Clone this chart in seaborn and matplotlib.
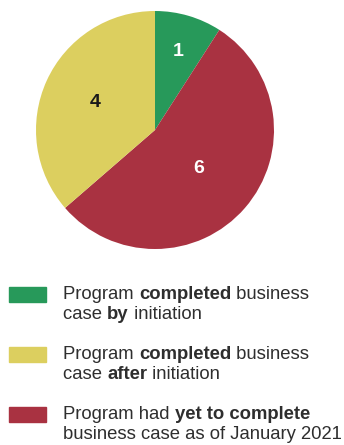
import matplotlib
matplotlib.use("Agg")
import matplotlib.pyplot as plt
import numpy as np
import seaborn as sns
from matplotlib.patches import Rectangle

# Data
categories = ["by", "after", "yet"]
counts = [1, 6, 4]
slice_colors = ["#27995a", "#a93241", "#dccf5f"]
label_colors = ["white", "white", "#1a1a1a"]
label_dist = [0.69, 0.49, 0.55]

legend_colors = ["#27995a", "#dccf5f", "#a93241"]
legend_lines = [
    [[("Program ", "normal"), ("completed", "bold"), (" business", "normal")],
     [("case ", "normal"), ("by", "bold"), (" initiation", "normal")]],
    [[("Program ", "normal"), ("completed", "bold"), (" business", "normal")],
     [("case ", "normal"), ("after", "bold"), (" initiation", "normal")]],
    [[("Program had ", "normal"), ("yet to complete", "bold")],
     [("business case as of January 2021", "normal")]],
]

sns.set_theme(style="white")
plt.rcParams["font.family"] = ["Liberation Sans", "DejaVu Sans"]

fig = plt.figure(figsize=(3.44, 4.45), dpi=100)
ax = fig.add_axes([36 / 344, 1 - 249 / 445, 238 / 344, 238 / 445])
wedges, _ = ax.pie(counts, colors=slice_colors, startangle=90, counterclock=False,
                   wedgeprops=dict(linewidth=0))
for w, n, c, d in zip(wedges, counts, label_colors, label_dist):
    ang = np.deg2rad((w.theta1 + w.theta2) / 2)
    ax.text(d * np.cos(ang), d * np.sin(ang), str(n), color=c, fontsize=14,
            fontweight="bold", ha="center", va="center")
ax.set_xlim(-1, 1)
ax.set_ylim(-1, 1)
ax.axis("off")

# Legend drawn by hand so parts of the text can be bold
fs = 13.3
rect_tops = [287, 347, 407]
for top, col, lines in zip(rect_tops, legend_colors, legend_lines):
    fig.patches.append(Rectangle((9 / 344, 1 - (top + 15) / 445), 37 / 344, 15 / 445,
                                 transform=fig.transFigure, color=col))
    for i, parts in enumerate(lines):
        base = top + 12 + i * 20
        prev = None
        for txt, w in parts:
            if prev is None:
                prev = fig.text(63 / 344, 1 - base / 445, txt, fontsize=fs, fontweight=w,
                                color="#2e2e2e", va="baseline", ha="left")
            else:
                prev = ax.annotate(txt, xy=(1, 0), xycoords=prev, fontsize=fs, fontweight=w,
                                   color="#2e2e2e", va="bottom", ha="left",
                                   annotation_clip=False)

fig.savefig("out.png", dpi=100)
